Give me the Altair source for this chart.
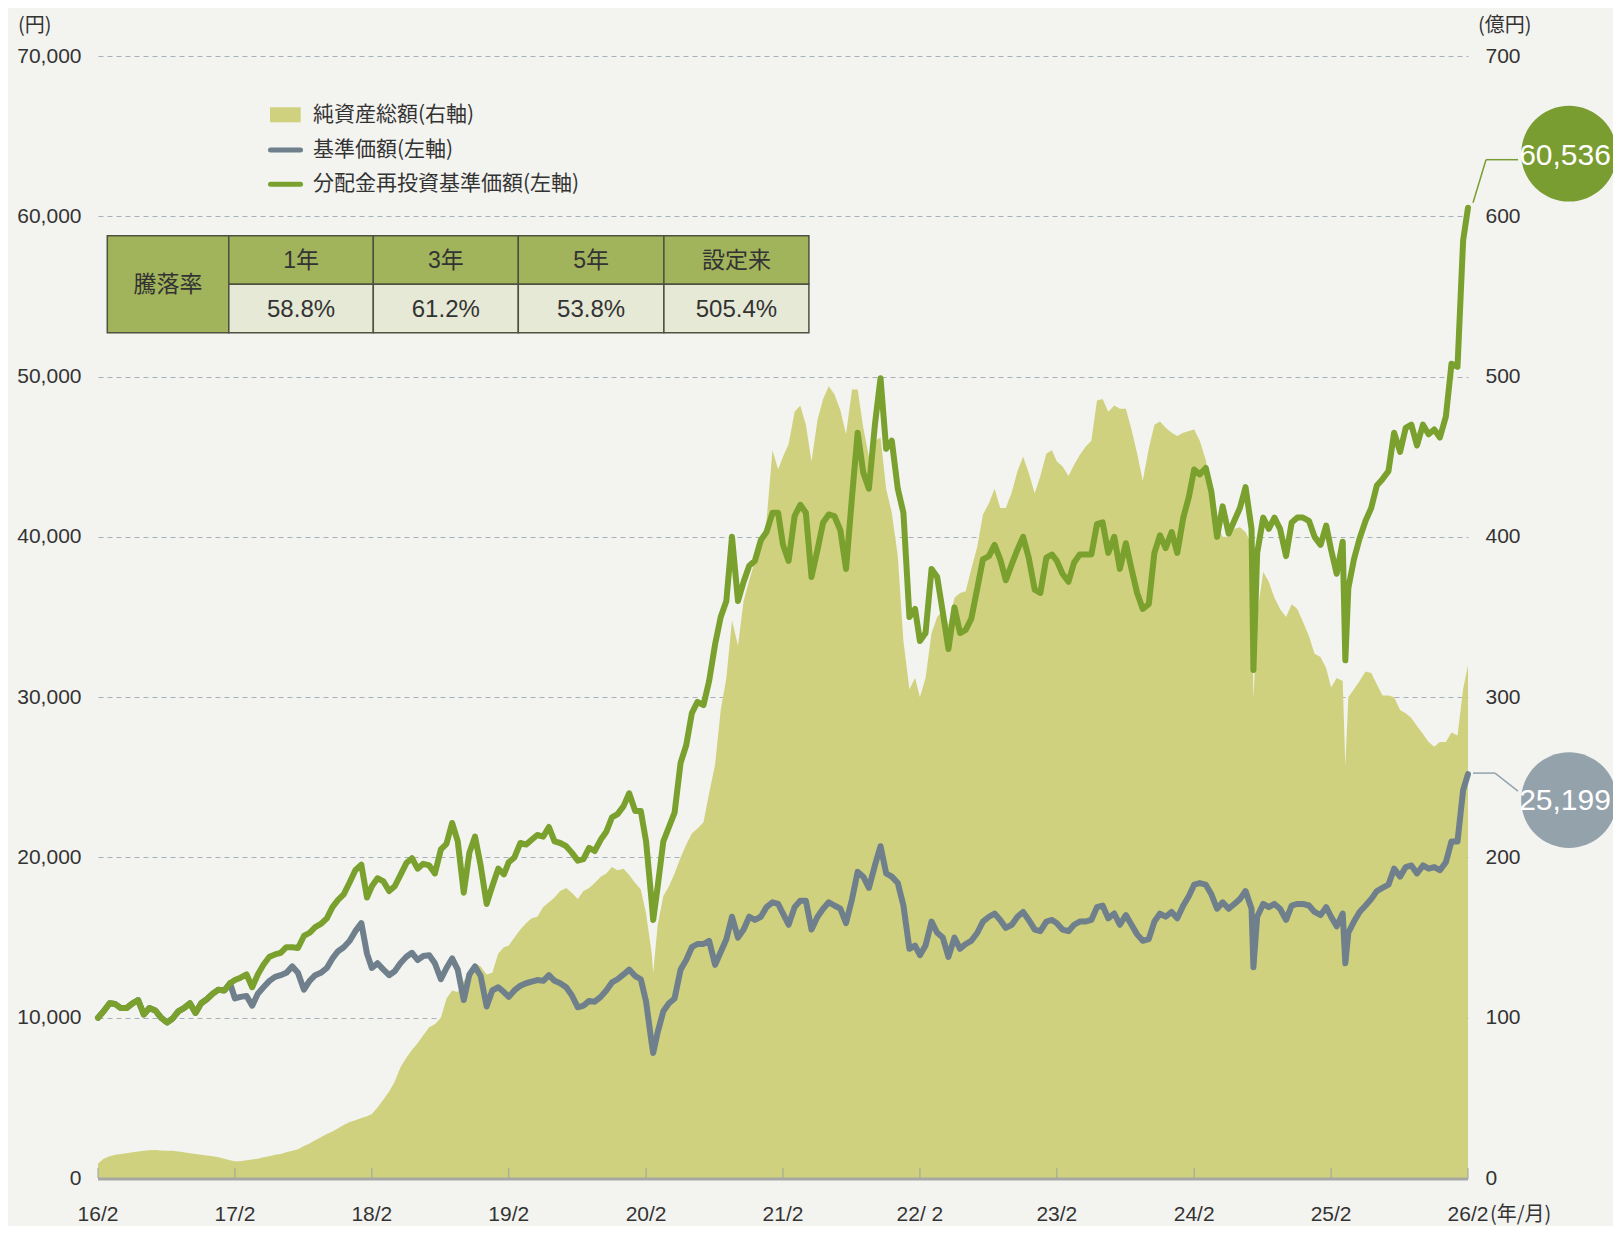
import calendar
import altair as alt
import pandas as pd

# ---------------- data ----------------
# semi-monthly grid: 2016-02-29, then the 15th and month-end of every month up to 2026-02-28
REINV = [  # 分配金再投資基準価額 (円)
    10000, 10400, 10900, 10850, 10600, 10600, 10900, 11100, 10200, 10600, 10450, 10000,
    9700, 9950, 10400, 10600, 10900, 10300, 10900, 11150, 11500, 11750, 11700, 12150,
    12350, 12500, 12700, 11900, 12700, 13300, 13800, 13950, 14050, 14400, 14400, 14350,
    15100, 15300, 15650, 15850, 16200, 16900, 17350, 17700, 18450, 19200, 19550, 17500,
    18200, 18700, 18500, 17900, 18200, 18900, 19650, 19950, 19300, 19600, 19500, 19000,
    20500, 20850, 22150, 21000, 17800, 20300, 21300, 19500, 17100, 18200, 19300, 18950,
    19700, 20000, 20900, 20800, 21100, 21400, 21300, 21900, 21000, 20900, 20700, 20300,
    19800, 19900, 20600, 20400, 21100, 21600, 22500, 22700, 23200, 24000, 22900, 22900,
    21000, 17200, 18200, 21000, 21900, 22800, 25900, 27000, 29000, 29700, 29500, 31000,
    33300, 35000, 36000, 40000, 36000, 37200, 38200, 38500, 39800, 40300, 41500, 41500,
    39500, 38500, 41300, 42000, 41500, 37500, 39200, 40900, 41400, 41300, 40400, 38000,
    42500, 46500, 44000, 43000, 47000, 49900, 45500, 46000, 43000, 41500, 35000, 35500,
    33500, 34000, 38000, 37500, 35300, 33000, 35600, 34000, 34200, 34900, 36800, 38600,
    38800, 39500, 38600, 37300, 38300, 39200, 40000, 38700, 36700, 36500, 38700, 38900,
    38500, 37700, 37200, 38400, 38900, 38900, 38900, 40800, 40900, 39000, 40000, 38000,
    39600, 38000, 36500, 35500, 35800, 39000, 40100, 39300, 40300, 39000, 41200, 42500,
    44200, 43900, 44300, 42800, 40000, 41900, 40200, 41000, 41800, 43100, 40500, 39000,
    41200, 40500, 41200, 40500, 38800, 40900, 41200, 41200, 41000, 40000, 39500, 40700,
    39200, 37700, 39700, 36800, 38600, 39900, 41000, 41800, 43200, 43600, 44100, 46500,
    45300, 46800, 47000, 45700, 47000, 46400, 46700, 46200, 47500, 50800, 50600, 58500,
    60536,
]
NAV = [  # 基準価額 (円)
    10000, 10400, 10900, 10850, 10600, 10600, 10900, 11100, 10200, 10600, 10450, 10000,
    9700, 9950, 10400, 10600, 10900, 10300, 10900, 11150, 11500, 11750, 11700, 12150,
    11200, 11300, 11350, 10750, 11500, 11900, 12300, 12550, 12650, 12800, 13200, 12800,
    11750, 12300, 12650, 12800, 13100, 13700, 14150, 14400, 14800, 15400, 15900, 14000,
    13100, 13400, 13000, 12650, 12900, 13400, 13800, 14050, 13600, 13850, 13900, 13400,
    12400, 13100, 13700, 13000, 11100, 12700, 13200, 12600, 10700, 11700, 11900, 11600,
    11300, 11700, 12000, 12150, 12250, 12350, 12300, 12650, 12300, 12150, 11900, 11400,
    10650, 10750, 11050, 11000, 11300, 11700, 12200, 12400, 12700, 13000, 12600, 12400,
    11000, 8400, 9100, 10400, 10900, 11200, 13000, 13600, 14400, 14600, 14600, 14800,
    13300, 14100, 14900, 16300, 15000, 15500, 16300, 16100, 16300, 16900, 17200, 17100,
    16500, 15800, 16900, 17300, 17300, 15500, 16300, 16800, 17200, 17000, 16800, 15900,
    17400, 19100, 18800, 18100, 19500, 20700, 19000, 18800, 18400, 17000, 14300, 14500,
    13900, 14500, 16000, 15300, 15000, 13800, 15000, 14300, 14600, 14800, 15300, 16000,
    16300, 16500, 16100, 15600, 15800, 16300, 16600, 16100, 15500, 15400, 16000, 16100,
    15900, 15500, 15400, 15800, 16000, 16000, 16100, 16900, 17000, 16200, 16500, 15800,
    16400, 15800, 15200, 14800, 14900, 16000, 16500, 16300, 16600, 16200, 17000, 17600,
    18300, 18400, 18300, 17700, 16800, 17200, 16800, 17100, 17400, 17900, 16800, 16300,
    17100, 16900, 17100, 16800, 16100, 17000, 17100, 17100, 17000, 16600, 16400, 16900,
    16300, 15700, 16500, 15300, 16000, 16600, 17000, 17400, 17900, 18100, 18300, 19300,
    18800, 19400, 19500, 19000, 19500, 19300, 19400, 19200, 19700, 21000, 21000, 24200,
    25199,
]
ASSETS = [  # 純資産総額 (億円)
    9, 12, 13.5, 14.5, 15, 15.5, 16, 16.5, 17, 17.3, 17.5, 17.2,
    17, 17, 16.5, 16, 15.5, 15, 14.5, 14, 13.5, 13, 12, 11,
    10.5, 10.5, 11, 11.5, 12, 13, 13.5, 14.5, 15, 16, 17, 18,
    20, 21.5, 23.5, 25.5, 27.5, 29, 31, 33, 35, 36, 37.5, 38.5,
    40, 44, 49, 54, 60, 69, 75, 80, 84, 89, 94, 96,
    100, 112, 117, 116, 123, 127, 134, 132, 127, 128, 140, 144,
    145, 150, 155, 159, 162, 163, 169, 172, 175, 179, 181, 178,
    174, 179, 181, 184, 188, 190, 194, 192, 193, 189, 184, 180,
    165, 140, 158, 176, 182, 190, 200, 208, 215, 218, 222, 240,
    258, 292, 312, 348, 332, 360, 373, 385, 393, 410, 454, 442,
    450, 458, 478, 482, 470, 447, 473, 486, 494, 489, 479, 464,
    492, 492, 468, 450, 460, 462, 430, 415, 388, 335, 305, 312,
    300, 312, 340, 350, 354, 345, 362, 365, 366, 380, 394, 414,
    421, 430, 418, 418, 428, 441, 450, 440, 427, 438, 452, 454,
    447, 444, 438, 445, 451, 456, 460, 485, 486, 478, 482, 480,
    480, 467, 452, 435, 455, 470, 472, 468, 465, 463, 465, 466,
    467, 460, 448, 430, 408, 400, 400, 405, 406, 403, 395, 352,
    378, 372, 362, 355, 350, 358, 355, 347, 338, 327, 325, 318,
    306, 312, 310, 300, 305, 310, 316, 315, 308, 301, 301, 300,
    292, 290, 287, 282, 277, 272, 269, 272, 272, 278, 276, 305,
    320,
]
# sharp one-off lows between grid dates
EXTRA_DATES = ["2020-03-19", "2024-08-05", "2025-04-07"]
EXTRA_REINV = [16100, 31700, 32300]
EXTRA_NAV = [7800, 13150, 13400]
EXTRA_ASSETS = [128, 298, 257]

TICK_DATES = ["2016-02-29", "2017-02-28", "2018-02-28", "2019-02-28", "2020-02-29",
              "2021-02-28", "2022-02-28", "2023-02-28", "2024-02-29", "2025-02-28",
              "2026-02-28"]
TICK_LABELS = ["16/2", "17/2", "18/2", "19/2", "20/2", "21/2", "22/ 2", "23/2",
               "24/2", "25/2", "26/2"]
X_UNIT = "(年/月)"
LEFT_UNIT = "(円)"
RIGHT_UNIT = "(億円)"
LEFT_TICKS = [0, 10000, 20000, 30000, 40000, 50000, 60000, 70000]
RIGHT_TICKS = [0, 100, 200, 300, 400, 500, 600, 700]
LEGEND_LABELS = ["純資産総額(右軸)", "基準価額(左軸)", "分配金再投資基準価額(左軸)"]
TABLE_ROW_LABEL = "騰落率"
TABLE_PERIODS = ["1年", "3年", "5年", "設定来"]
TABLE_RETURNS = ["58.8%", "61.2%", "53.8%", "505.4%"]

# ---------------- frame ----------------
dates = ["2016-02-29"]
for yy in range(2016, 2027):
    for mm in range(1, 13):
        if (yy, mm) < (2016, 3) or (yy, mm) > (2026, 2):
            continue
        dates.append(f"{yy}-{mm:02d}-15")
        dates.append(f"{yy}-{mm:02d}-{calendar.monthrange(yy, mm)[1]:02d}")
assert len(dates) == len(REINV) == len(NAV) == len(ASSETS), (len(dates), len(REINV), len(NAV), len(ASSETS))

df = pd.DataFrame({
    "date": dates + EXTRA_DATES,
    "reinv": REINV + EXTRA_REINV,
    "nav": NAV + EXTRA_NAV,
    "assets": ASSETS + EXTRA_ASSETS,
}).sort_values("date").reset_index(drop=True)
last = df.tail(1)
tick_df = pd.DataFrame({"date": TICK_DATES, "label": TICK_LABELS})
one = pd.DataFrame({"k": [0]})

# ---------------- styles ----------------
W, H = 1370, 1122
BG = "#f3f4f0"
AREA = "#cfd17e"
GREEN = "#7aa02e"
GREY = "#6f808c"
GREEN_B = "#7a9d31"
GREY_B = "#94a2ac"
GRID = "#a6b0ba"
TXT = "#333333"
HEAD = "#a1b45c"
CELL = "#e6e9d5"
BORDER = "#4f5140"
NUM = "Liberation Sans"
JP = "Noto Sans CJK JP"
MIX = "Liberation Sans, Noto Sans CJK JP"

xs = alt.Scale(domain=[alt.DateTime(year=2016, month=2, date=29, utc=True),
                       alt.DateTime(year=2026, month=2, date=28, utc=True)])
X = alt.X("date:T", scale=xs, axis=None)
yl = alt.Scale(domain=[0, 70000], nice=False)
yr = alt.Scale(domain=[0, 700], nice=False)

area = alt.Chart(df).mark_area(color=AREA, opacity=1, interpolate="linear").encode(
    x=X,
    y=alt.Y("assets:Q", scale=yr, axis=alt.Axis(
        orient="right", values=RIGHT_TICKS, format="d", grid=False, ticks=False,
        domain=False, labelPadding=17, labelFont=NUM, labelFontSize=21,
        labelColor=TXT, title=None)),
)

grey = alt.Chart(df).mark_line(color=GREY, strokeWidth=6, strokeJoin="round",
                               strokeCap="round").encode(
    x=X,
    y=alt.Y("nav:Q", scale=yl, axis=alt.Axis(
        orient="left", values=LEFT_TICKS, format=",.0f", grid=True, gridDash=[5, 4],
        gridColor=GRID, gridWidth=1, ticks=False, domain=False, labelPadding=17,
        labelFont=NUM, labelFontSize=21, labelColor=TXT, title=None)),
)
green = alt.Chart(df).mark_line(color=GREEN, strokeWidth=6, strokeJoin="round",
                                strokeCap="round").encode(
    x=X, y=alt.Y("reinv:Q", scale=yl, axis=None))

ticks = alt.Chart(tick_df).mark_rule(color="#9fa29d", strokeWidth=1).encode(
    x=X, y=alt.value(H), y2=alt.value(H - 10))
xline = alt.Chart(one).mark_rule(color="#a7a8a4", strokeWidth=3).encode(
    x=alt.value(0), x2=alt.value(W), y=alt.value(H + 1))
tick_text = alt.Chart(tick_df).mark_text(font=NUM, fontSize=21, color=TXT,
                                         align="center", baseline="middle").encode(
    x=X, y=alt.value(H + 37), text="label:N")
x_unit = alt.Chart(tick_df.tail(1)).mark_text(font=JP, fontSize=20, color=TXT,
                                              align="left", baseline="middle", dx=22).encode(
    x=X, y=alt.value(H + 37), text=alt.value(X_UNIT))

# end-value call-outs
YG = alt.Y("reinv:Q", scale=yl, axis=None)
YN = alt.Y("nav:Q", scale=yl, axis=None)
g_c1 = alt.Chart(last).mark_rule(color=GREEN_B, strokeWidth=1.5, xOffset=5, yOffset=-5,
                                 x2Offset=18, y2Offset=-48).encode(x=X, x2="date:T", y=YG, y2="reinv:Q")
g_c2 = alt.Chart(last).mark_rule(color=GREEN_B, strokeWidth=1.5, xOffset=18, yOffset=-48,
                                 x2Offset=50, y2Offset=-48).encode(x=X, x2="date:T", y=YG, y2="reinv:Q")
n_c1 = alt.Chart(last).mark_rule(color=GREY_B, strokeWidth=1.5, xOffset=5, yOffset=-1,
                                 x2Offset=27, y2Offset=-1).encode(x=X, x2="date:T", y=YN, y2="nav:Q")
n_c2 = alt.Chart(last).mark_rule(color=GREY_B, strokeWidth=1.5, xOffset=27, yOffset=-1,
                                 x2Offset=50, y2Offset=17).encode(x=X, x2="date:T", y=YN, y2="nav:Q")
g_bub = alt.Chart(last).mark_circle(color=GREEN_B, opacity=1, size=9160, xOffset=101,
                                    yOffset=-54).encode(x=X, y=YG)
n_bub = alt.Chart(last).mark_circle(color=GREY_B, opacity=1, size=9160, xOffset=101,
                                    yOffset=26).encode(x=X, y=YN)
g_txt = alt.Chart(last).mark_text(font=NUM, fontSize=30, color="white", align="center",
                                  baseline="middle", dx=97, dy=-52).encode(
    x=X, y=YG, text=alt.Text("reinv:Q", format=","))
n_txt = alt.Chart(last).mark_text(font=NUM, fontSize=30, color="white", align="center",
                                  baseline="middle", dx=97, dy=27).encode(
    x=X, y=YN, text=alt.Text("nav:Q", format=","))

# ---------------- table (pixel layout) ----------------
TX = [9.3, 130.8, 275.3, 420.3, 565.9, 710.9]
TY = [179.7, 228.3, 276.7]
cells = [{"x": TX[0], "x2": TX[1], "y": TY[0], "y2": TY[2], "fill": HEAD}]
for j in range(1, 5):
    cells.append({"x": TX[j], "x2": TX[j + 1], "y": TY[0], "y2": TY[1], "fill": HEAD})
    cells.append({"x": TX[j], "x2": TX[j + 1], "y": TY[1], "y2": TY[2], "fill": CELL})
cells = pd.DataFrame(cells)
PX = dict(x=alt.X("x:Q", scale=None, axis=None), y=alt.Y("y:Q", scale=None, axis=None))
table = alt.Chart(cells).mark_rect(stroke=BORDER, strokeWidth=1.5).encode(
    x2="x2:Q", y2="y2:Q", color=alt.Color("fill:N", scale=None), **PX)

centers = [(TX[j] + TX[j + 1]) / 2 for j in range(1, 5)]
head_df = pd.DataFrame({"x": [(TX[0] + TX[1]) / 2] + centers,
                        "y": [229] + [204.5] * 4,
                        "t": [TABLE_ROW_LABEL] + TABLE_PERIODS})
val_df = pd.DataFrame({"x": centers, "y": [254] * 4, "t": TABLE_RETURNS})
head_txt = alt.Chart(head_df).mark_text(font=MIX, fontSize=23, color=TXT, align="center",
                                        baseline="middle").encode(text="t:N", **PX)
val_txt = alt.Chart(val_df).mark_text(font=NUM, fontSize=24, color=TXT, align="center",
                                      baseline="middle").encode(text="t:N", **PX)

# ---------------- legend (pixel layout) ----------------
sw = pd.DataFrame({"x": [172], "x2": [202.7], "y": [51.3], "y2": [66.3]})
sw_mark = alt.Chart(sw).mark_rect(color=AREA).encode(x2="x2:Q", y2="y2:Q", **PX)
lg_lines = pd.DataFrame({"x": [172.5, 172.5], "x2": [202.5, 202.5], "y": [94, 128.3],
                         "c": [GREY, GREEN]})
lg_mark = alt.Chart(lg_lines).mark_rule(strokeWidth=5, strokeCap="round").encode(
    x2="x2:Q", color=alt.Color("c:N", scale=None), **PX)
lg_txt_df = pd.DataFrame({"x": [215] * 3, "y": [59, 94, 128.3], "t": LEGEND_LABELS})
lg_txt = alt.Chart(lg_txt_df).mark_text(font=JP, fontSize=21, color=TXT, align="left",
                                        baseline="middle").encode(text="t:N", **PX)

units_df = pd.DataFrame({"x": [-80, 1380], "y": [-30, -30], "t": [LEFT_UNIT, RIGHT_UNIT]})
units = alt.Chart(units_df).mark_text(font=JP, fontSize=20, color=TXT, align="left",
                                      baseline="middle").encode(text="t:N", **PX)

chart = alt.layer(
    area, ticks, xline, grey, green, tick_text, x_unit,
    g_c1, g_c2, n_c1, n_c2, g_bub, n_bub, g_txt, n_txt,
    table, head_txt, val_txt, sw_mark, lg_mark, lg_txt, units,
).resolve_scale(y="independent").properties(
    width=W, height=H, background=BG,
    padding={"left": 90, "top": 48, "right": 145, "bottom": 48},
    autosize=alt.AutoSizeParams(type="none"),
).configure_view(stroke=None)

chart.save("out.html", embed_options={"renderer": "svg", "actions": False})
